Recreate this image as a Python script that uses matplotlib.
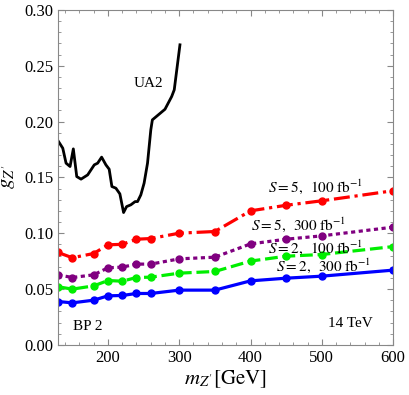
import matplotlib
matplotlib.use("Agg")
import matplotlib.pyplot as plt
from matplotlib.ticker import MultipleLocator

plt.rcParams["font.family"] = ["Liberation Serif", "DejaVu Serif"]
plt.rcParams["mathtext.fontset"] = "stix"

# Signal-reach curves, Z' mass in GeV
mass = [130, 150, 180, 200, 220, 240, 260, 300, 350, 400, 450, 500, 600]
s5_100 = [0.0827, 0.078, 0.0818, 0.0896, 0.090, 0.0946, 0.0952, 0.100, 0.1015, 0.120, 0.125, 0.129, 0.138]
s5_300 = [0.0627, 0.0603, 0.0627, 0.069, 0.0696, 0.0723, 0.0723, 0.077, 0.0785, 0.0904, 0.0946, 0.0976, 0.1054]
s2_100 = [0.052, 0.0499, 0.0528, 0.0576, 0.057, 0.0603, 0.0606, 0.0642, 0.0657, 0.075, 0.0794, 0.0809, 0.088]
s2_300 = [0.0388, 0.0376, 0.040, 0.0439, 0.0442, 0.046, 0.046, 0.049, 0.049, 0.0573, 0.0597, 0.0615, 0.0669]

# UA2 limit
ua2_mass = [130, 136.6, 141.2, 146.8, 151.4, 156.2, 162.2, 171.5, 180.8, 185.5, 191.1, 197.1,
            201.7, 205.5, 211.1, 216.7, 221.9, 226.1, 232.1, 238.1, 241.5, 246.1, 250.7,
            255.5, 260.1, 262.3, 280, 289.4, 293, 301]
ua2_g = [0.1827, 0.1761, 0.1627, 0.1597, 0.1755, 0.1507, 0.1484, 0.1522, 0.1612, 0.1627,
         0.1681, 0.1612, 0.1573, 0.1418, 0.1403, 0.1352, 0.1185, 0.1238, 0.1254, 0.1283,
         0.1283, 0.1343, 0.1448, 0.1627, 0.1925, 0.2015, 0.211, 0.2224, 0.2284, 0.2687]

fig = plt.figure(figsize=(4.09, 3.95), dpi=100)
ax = fig.add_axes([0.142, 0.127, 0.819, 0.848])

ax.plot(ua2_mass, ua2_g, color="black", lw=2.0)
ax.plot(mass, s5_100, color="#ff0000", lw=2.3, ls=(0, (5, 1.5, 1, 1.5)), marker="o", ms=5)
ax.plot(mass, s5_300, color="#800080", lw=2.3, ls=(0, (1.3, 1.1)), marker="o", ms=5)
ax.plot(mass, s2_100, color="#00ee00", lw=2.3, ls=(0, (4, 1.5)), marker="o", ms=5)
ax.plot(mass, s2_300, color="#0000ff", lw=2.3, ls="-", marker="o", ms=5)

ax.text(257, 0.2344, "UA2", fontsize=11, ha="center", va="center")
ax.text(491, 0.1415, r"$S=5,\;\;100\;\mathrm{fb}^{-1}$", fontsize=11, ha="center", va="center")
ax.text(467, 0.1075, r"$S=5,\;\;300\;\mathrm{fb}^{-1}$", fontsize=11, ha="center", va="center")
ax.text(491, 0.0866, r"$S=2,\;\;100\;\mathrm{fb}^{-1}$", fontsize=11, ha="center", va="center")
ax.text(502, 0.071, r"$S=2,\;\;300\;\mathrm{fb}^{-1}$", fontsize=11, ha="center", va="center")
ax.text(540, 0.0194, "14 TeV", fontsize=11, ha="center", va="center")
ax.text(172, 0.0164, "BP 2", fontsize=11, ha="center", va="center")

ax.set_xlim(130, 600)
ax.set_ylim(0, 0.30)
ax.xaxis.set_major_locator(MultipleLocator(100))
ax.xaxis.set_minor_locator(MultipleLocator(20))
ax.yaxis.set_major_locator(MultipleLocator(0.05))
ax.yaxis.set_minor_locator(MultipleLocator(0.01))
ax.yaxis.set_major_formatter(matplotlib.ticker.FormatStrFormatter("%.2f"))

ax.tick_params(which="both", direction="in", top=True, right=True, color="#888888", labelsize=12)
ax.tick_params(which="major", length=4.5)
ax.tick_params(which="minor", length=2.5)
for sp in ax.spines.values():
    sp.set_color("#888888")

ax.set_xlabel(r"$m_{Z'}[\mathrm{GeV}]$", fontsize=15, labelpad=2)
ax.set_ylabel(r"$g_{Z'}$", fontsize=15, labelpad=4)

fig.savefig("out.png", dpi=100)
